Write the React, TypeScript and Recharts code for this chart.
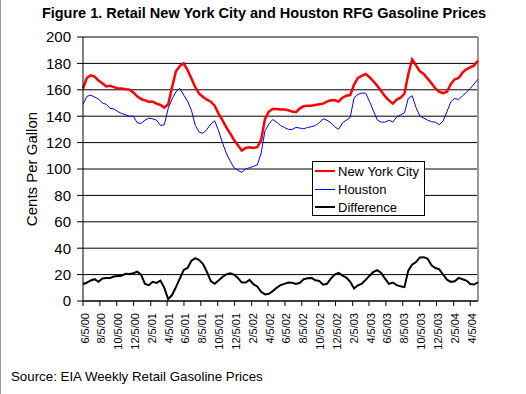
import React from "react";
import {
  LineChart,
  Line,
  XAxis,
  YAxis,
  CartesianGrid,
  ReferenceLine,
} from "recharts";

// weekly EIA prices, sampled every other week from 6/5/00 (cents per gallon)
const NYC = [
  161, 169, 171, 170, 167, 165, 162.5, 163, 162, 161, 161, 160.5, 160, 158, 155,
  153, 152, 151, 151, 149.5, 148.5, 146.5, 149, 162, 174, 178, 180, 175, 168.5,
  162, 157, 154.5, 152.5, 151, 148, 142, 137, 131.5, 127, 122, 118, 114, 116,
  116.5, 116, 116.5, 122, 138, 143.5, 145.5, 145.5, 145, 145, 144.5, 143.5, 143,
  146, 147.5, 148, 148, 148.5, 149, 149.5, 151, 152, 152, 151, 154, 155.5, 156,
  164, 169, 170.5, 172, 169.5, 166.5, 163, 159, 155, 152, 149.5, 152.5, 154, 157,
  172, 183, 178.5, 174, 172, 168.5, 165, 161, 158.5, 157.5, 158.5, 164.5, 168,
  169, 173, 175.5, 177, 178.5, 182,
];

const HOUSTON = [
  149, 155, 156, 154.5, 153, 150, 149, 146, 145.5, 143.5, 142, 141, 140, 140, 135,
  134.5, 137, 138.5, 138, 137, 133, 133.5, 146, 153, 158.5, 161, 156, 151.5,
  144.5, 133, 128, 127, 130, 134, 136.5, 129, 120, 112, 106, 101, 99, 97.5, 100,
  101, 102, 103, 112, 129, 134, 137.5, 135.5, 133, 131.5, 130, 130, 131.5, 131,
  130.5, 131.5, 132, 133, 135, 138, 137, 135, 132, 130, 135, 137, 139, 154,
  156.5, 157.5, 157.5, 151, 144, 137, 135.5, 135.5, 137, 135.5, 139.5, 141,
  142.5, 153.5, 155.5, 146.5, 140, 138.5, 137, 135.8, 135.5, 133.5, 136.5, 143.5,
  151, 153.5, 152.5, 155.5, 158, 161, 164.5, 168,
];

const DIFFERENCE = [
  12.7, 14, 15.5, 16.5, 14.5, 17, 17.5, 17.5, 18.5, 19, 19.2, 20.7, 20.5, 21,
  22.2, 20, 13, 12, 14.5, 13.7, 15.5, 10, 1.5, 4.5, 10.5, 17, 23.5, 25, 30.5,
  32.5, 31, 28, 22, 15, 13, 15.5, 18.2, 20.2, 21, 20, 17.5, 14, 14, 16, 12.7, 11,
  7, 5, 5.5, 7.5, 10, 12, 13, 14, 13.8, 13, 13.8, 16.5, 17.2, 17.5, 15.7, 15.2,
  12.3, 13, 17, 20, 21.3, 19.2, 17.8, 14.5, 9.5, 11.9, 13.2, 16, 19.2, 22, 23.3,
  21.3, 17, 13, 14, 12, 11.1, 10.5, 23, 27.6, 29.5, 33, 33.2, 32, 27, 25, 24, 20,
  16.2, 14.5, 15, 17.5, 16.5, 15.5, 12.8, 12.5, 14.2,
];

const X_TICK_LABELS = [
  "6/5/00", "8/5/00", "10/5/00", "12/5/00", "2/5/01", "4/5/01", "6/5/01",
  "8/5/01", "10/5/01", "12/5/01", "2/5/02", "4/5/02", "6/5/02", "8/5/02",
  "10/5/02", "12/5/02", "2/5/03", "4/5/03", "6/5/03", "8/5/03", "10/5/03",
  "12/5/03", "2/5/04", "4/5/04",
];

const Y_TICKS = [0, 20, 40, 60, 80, 100, 120, 140, 160, 180, 200];

const DAY = 86400000;
const START = Date.UTC(2000, 5, 5);
const STEP = 14 * DAY;

const toTime = (s: string) => {
  const [m, d, y] = s.split("/").map(Number);
  return Date.UTC(2000 + y, m - 1, d);
};

const LABEL_BY_TIME: Record<number, string> = {};
X_TICK_LABELS.forEach((s) => (LABEL_BY_TIME[toTime(s)] = s));
const X_TICKS = X_TICK_LABELS.map(toTime);

const data = NYC.map((v, i) => ({
  t: START + i * STEP,
  nyc: v,
  houston: HOUSTON[i],
  difference: DIFFERENCE[i],
}));
const END = data[data.length - 1].t;

const FONT = '"Liberation Sans", Arial, Helvetica, sans-serif';

function XTick(props: any) {
  const { x, y, payload } = props;
  return (
    <text
      x={x}
      y={y}
      dy={5.5}
      transform={`rotate(-90, ${x}, ${y})`}
      textAnchor="end"
      fontSize={11}
      fontFamily={FONT}
      fill="#000"
    >
      {LABEL_BY_TIME[payload.value]}
    </text>
  );
}

const legendItems = [
  { name: "New York City", color: "#ff0000", width: 2.5 },
  { name: "Houston", color: "#0000ff", width: 1 },
  { name: "Difference", color: "#000000", width: 2 },
];

export default function App() {
  return (
    <div
      style={{
        position: "absolute",
        left: 0,
        top: 0,
        width: 526,
        height: 394,
        background: "#fff",
        fontFamily: FONT,
        color: "#000",
        borderLeft: "1px solid #999",
        boxSizing: "border-box",
      }}
    >
      <div
        style={{
          position: "absolute",
          left: 0,
          top: 5,
          width: 526,
          textAlign: "center",
          fontSize: 14.5,
          lineHeight: "16px",
          fontWeight: "bold",
          whiteSpace: "nowrap",
        }}
      >
        Figure 1. Retail New York City and Houston RFG Gasoline Prices
      </div>

      <div
        style={{
          position: "absolute",
          left: -69,
          top: 160,
          width: 200,
          height: 18,
          lineHeight: "18px",
          fontSize: 15,
          textAlign: "center",
          transform: "rotate(-90deg)",
          whiteSpace: "nowrap",
        }}
      >
        Cents Per Gallon
      </div>

      <div style={{ position: "absolute", left: -1, top: 0 }}>
        <LineChart
          width={526}
          height={394}
          data={data}
          margin={{ top: 37, right: 48, bottom: 33, left: 23 }}
        >
          <CartesianGrid vertical={false} stroke="#000" strokeWidth={1} />
          <XAxis
            type="number"
            dataKey="t"
            domain={[START, END]}
            ticks={X_TICKS}
            interval={0}
            height={60}
            tickSize={5}
            tickMargin={7}
            stroke="#000"
            tick={(p: any) => <XTick {...p} />}
          />
          <YAxis
            type="number"
            domain={[0, 200]}
            ticks={Y_TICKS}
            interval={0}
            width={60}
            tickSize={6}
            tickMargin={6}
            stroke="#000"
            tick={{ fontSize: 15, fill: "#000", fontFamily: FONT }}
          />
          <ReferenceLine x={END} stroke="#999" strokeWidth={2} />
          <Line
            dataKey="nyc"
            stroke="#ff0000"
            strokeWidth={2.5}
            dot={false}
            isAnimationActive={false}
          />
          <Line
            dataKey="houston"
            stroke="#0000ff"
            strokeWidth={1}
            dot={false}
            isAnimationActive={false}
          />
          <Line
            dataKey="difference"
            stroke="#000"
            strokeWidth={2}
            dot={false}
            isAnimationActive={false}
          />
        </LineChart>
      </div>

      <div
        style={{
          position: "absolute",
          left: 311,
          top: 161,
          width: 113,
          height: 55,
          border: "1px solid #000",
          background: "#fff",
          boxSizing: "border-box",
        }}
      >
        {legendItems.map((it) => (
          <div
            key={it.name}
            style={{
              display: "flex",
              alignItems: "center",
              height: 18,
              fontSize: 13,
            }}
          >
            <div
              style={{
                marginLeft: 2,
                width: 20,
                height: it.width,
                background: it.color,
              }}
            />
            <span style={{ marginLeft: 3, whiteSpace: "nowrap" }}>{it.name}</span>
          </div>
        ))}
      </div>

      <div
        style={{
          position: "absolute",
          left: 10,
          top: 369,
          fontSize: 13.3,
          lineHeight: "16px",
          whiteSpace: "nowrap",
        }}
      >
        Source: EIA Weekly Retail Gasoline Prices
      </div>
    </div>
  );
}
